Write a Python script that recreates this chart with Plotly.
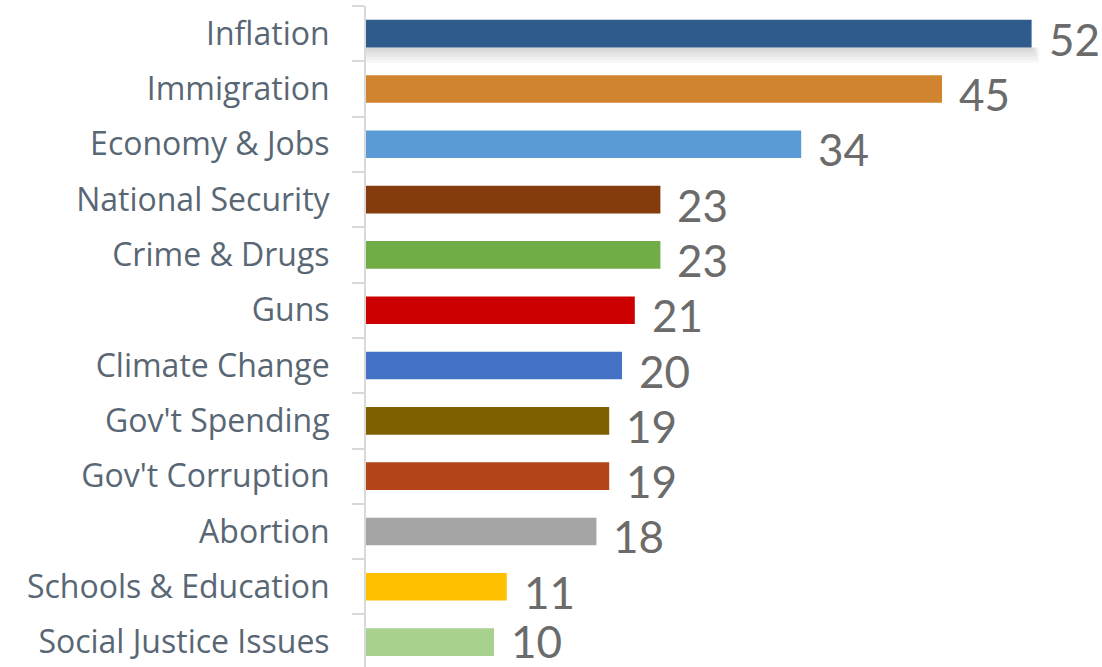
import plotly.graph_objects as go

categories = ["Inflation", "Immigration", "Economy & Jobs", "National Security",
              "Crime & Drugs", "Guns", "Climate Change", "Gov't Spending",
              "Gov't Corruption", "Abortion", "Schools & Education", "Social Justice Issues"]
values = [52, 45, 34, 23, 23, 21, 20, 19, 19, 18, 11, 10]
colors = ["#2E5A8C", "#D0842F", "#5B9BD5", "#843C0C", "#70AD47", "#CC0000",
          "#4472C4", "#7F6000", "#B4441A", "#A5A5A5", "#FFC000", "#A9D18E"]

BAR_W = 0.5

fig = go.Figure()
fig.add_trace(go.Bar(
    y=categories, x=values, orientation="h",
    marker=dict(color=colors, line=dict(width=0)),
    width=BAR_W, hoverinfo="skip",
))

# soft drop shadow under the first bar
for k in range(1, 6):
    fig.add_shape(type="rect", xref="x", yref="y", layer="below",
                  x0=0, x1=values[0] + 0.12 * k,
                  y0=BAR_W / 2, y1=BAR_W / 2 + 0.055 * k,
                  fillcolor="rgba(0,0,0,0.03)", line=dict(width=0))

n = len(categories)
for i, (c, v) in enumerate(zip(categories, values)):
    fig.add_annotation(x=v, y=c, text=str(v), showarrow=False,
                       xanchor="left", yanchor="middle", xshift=15,
                       yshift=(-5 if i < n - 1 else 1),
                       font=dict(family="Lato", size=44, color="#6B6B6B"))

fig.update_layout(
    width=1102, height=667,
    margin=dict(l=366, r=0, t=6, b=0),
    paper_bgcolor="white", plot_bgcolor="white",
    showlegend=False,
    xaxis=dict(range=[0, 57.5], visible=False, fixedrange=True),
    yaxis=dict(type="category", categoryorder="array", categoryarray=categories,
               range=[11.45, -0.5], tickson="boundaries", ticks="outside",
               ticklen=12, tickcolor="#D9D9D9", tickwidth=2,
               showline=True, linecolor="#D9D9D9", linewidth=2,
               showgrid=False, zeroline=False, ticklabelstandoff=28,
               fixedrange=True,
               tickfont=dict(family="Open Sans", size=32, color="#596775")),
)

fig.write_html("out.html", config={"displayModeBar": False, "staticPlot": True},
               post_script="document.body.style.margin='0';")
